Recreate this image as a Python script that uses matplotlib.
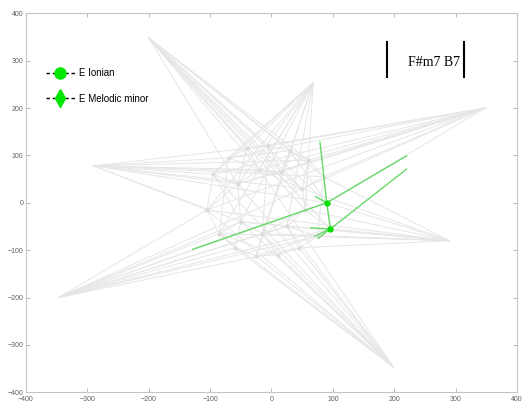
import matplotlib
matplotlib.use("Agg")
import matplotlib.pyplot as plt
from matplotlib.lines import Line2D

# ---- data -------------------------------------------------------------
# outer hub nodes
hub_x = [-200, 68, 348, 290, 198, -347, -290]
hub_y = [348, 254, 200, -80, -346, -200, 78]

# inner cluster nodes
inner_x = [-95, -70, -40, -5, 30, 60, 85, 90, 96, 75, 45, 10, -25, -60, -85, -105,
           -55, -20, 15, 50, -50, -15, 25, 55]
inner_y = [60, 95, 115, 120, 110, 90, 55, 0, -55, -70, -95, -110, -112, -95, -65, -15,
           40, 70, 65, 30, -40, -65, -50, -15]

# inner edges (pairs of inner node indices)
inner_a = [0, 1, 2, 3, 4, 5, 6, 7, 8, 9, 10, 11, 12, 13, 14, 15,
           16, 17, 18, 19, 23, 22, 21, 20,
           0, 2, 4, 6, 8, 10, 12, 14,
           1, 3, 5, 7, 9, 11, 13, 15,
           16, 17, 20, 21, 0, 3, 1, 4, 6, 9, 11, 14, 2, 5]
inner_b = [1, 2, 3, 4, 5, 6, 7, 8, 9, 10, 11, 12, 13, 14, 15, 0,
           17, 18, 19, 23, 22, 21, 20, 16,
           16, 17, 18, 19, 23, 22, 21, 20,
           17, 18, 19, 23, 22, 21, 20, 16,
           18, 19, 22, 23, 20, 21, 4, 7, 9, 12, 14, 1, 16, 23]

# hub -> inner node links
hub_links = [
    [2, 3, 4, 5, 6, 17, 18, 19, 7, 23, 16, 8],
    [0, 1, 16, 17, 20, 15, 21, 22, 2, 23, 14, 12],
    [0, 1, 16, 17, 2, 18, 19, 5, 6, 7, 15, 3],
    [7, 8, 9, 22, 23, 10, 20, 21, 15, 19, 14, 6],
    [12, 13, 14, 15, 20, 21, 10, 11, 22, 16, 0, 17],
    [13, 14, 15, 20, 21, 22, 9, 10, 8, 23, 7, 19],
    [0, 16, 17, 18, 19, 5, 6, 15, 1, 7, 2, 20],
]

# green path
green_x = [-128, 90, 220, 79, 96, 220, 64, 71, 76, 72]
green_y = [-98, 0, 99, 128, -55, 71, -53, -70, -75, 13]
green_a = [0, 1, 3, 1, 4, 6, 7, 8, 9]
green_b = [1, 2, 1, 4, 5, 4, 4, 4, 1]
green_nodes = [1, 4]

legend_labels = ["E Ionian", "E Melodic minor"]
chord_text = "F#m7 B7"
ticks = [-400, -300, -200, -100, 0, 100, 200, 300, 400]

# ---- figure -------------------------------------------------------------
fig = plt.figure(figsize=(5.28, 4.03), dpi=100)
ax = fig.add_axes([0.0492, 0.0266, 0.9300, 0.9404])

gray = "#e6e6e6"
for a, b in zip(inner_a, inner_b):
    ax.plot([inner_x[a], inner_x[b]], [inner_y[a], inner_y[b]],
            color=gray, lw=0.7, zorder=1)
for h, links in enumerate(hub_links):
    for n in links:
        ax.plot([hub_x[h], inner_x[n]], [hub_y[h], inner_y[n]],
                color=gray, lw=0.7, zorder=1)
ax.plot(inner_x, inner_y, ls="none", marker="o", ms=2, color="#dcdcdc", zorder=2)

for a, b in zip(green_a, green_b):
    ax.plot([green_x[a], green_x[b]], [green_y[a], green_y[b]],
            color="#66d966", lw=1.0, zorder=3)
ax.plot([green_x[i] for i in green_nodes], [green_y[i] for i in green_nodes],
        ls="none", marker="o", ms=3.5, color="#00e000", zorder=4)

ax.set_xlim(-400, 400)
ax.set_ylim(-400, 400)
ax.set_xticks(ticks)
ax.set_yticks(ticks)
ax.tick_params(direction="in", length=3, width=0.6, color="#b0b0b0",
               labelsize=5, labelcolor="#606060", pad=2,
               top=True, right=True)
ax.tick_params(axis="x", pad=3)
for lab in ax.get_xticklabels() + ax.get_yticklabels():
    lab.set_fontfamily("Liberation Sans")
for s in ax.spines.values():
    s.set_color("#c4c4c4")
    s.set_linewidth(0.8)

# legend
handles = [
    Line2D([], [], ls=(0, (2.5, 2)), color="black", lw=1.0, marker="o", ms=8,
           mfc="#00e600", mec="#00e600"),
    Line2D([], [], ls=(0, (2.5, 2)), color="black", lw=1.0, marker="d", ms=9,
           mfc="#00e600", mec="#00e600"),
]
ax.legend(handles, legend_labels, loc="upper left", bbox_to_anchor=(0.022, 0.878),
          frameon=False, prop={"family": "Liberation Sans", "size": 7.0},
          handlelength=3.0, handletextpad=0.4, labelspacing=1.6)

# chord annotation
ax.text(0.830, 0.871, chord_text, transform=ax.transAxes, ha="center", va="center",
        fontsize=10, family="Liberation Serif", color="black")
ax.plot([0.736, 0.736], [0.832, 0.924], transform=ax.transAxes, color="black", lw=1.5)
ax.plot([0.893, 0.893], [0.832, 0.924], transform=ax.transAxes, color="black", lw=1.5)

fig.savefig("out.png", dpi=100)
